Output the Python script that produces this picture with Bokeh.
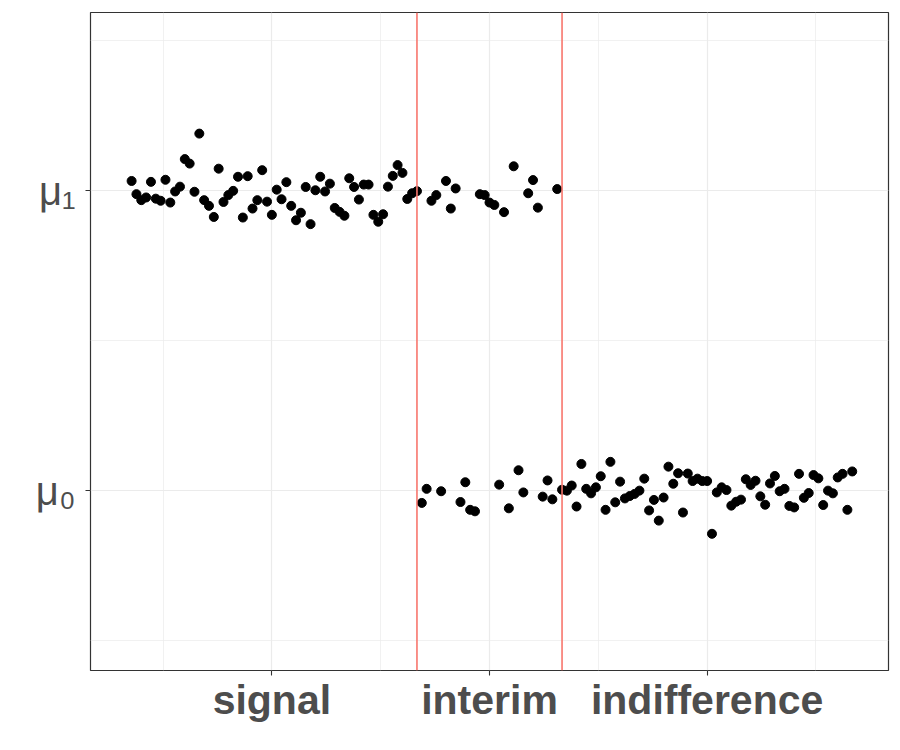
from bokeh.plotting import figure
from bokeh.models import FixedTicker, Range1d, Span, ColumnDataSource
from bokeh.embed import file_html
from bokeh.resources import INLINE

# ---- data ----
# time index of observations whose mean is mu1 (=1) and their values
idx_mu1 = list(range(1, 61)) + [63, 64, 66, 67, 68, 73, 74, 75, 76, 78, 80, 83, 84, 85, 89]
y_mu1 = [1.033, 0.989, 0.969, 0.978, 1.030, 0.974, 0.967, 1.037, 0.961, 0.998,
         1.014, 1.106, 1.091, 0.997, 1.191, 0.969, 0.950, 0.913, 1.074, 0.963,
         0.986, 1.000, 1.047, 0.911, 1.049, 0.941, 0.969, 1.069, 0.964, 0.920,
         1.004, 0.972, 1.029, 0.950, 0.902, 0.927, 1.013, 0.889, 1.002, 1.047,
         0.998, 1.024, 0.943, 0.930, 0.917, 1.042, 1.013, 0.971, 1.021, 1.021,
         0.920, 0.897, 0.922, 1.014, 1.050, 1.086, 1.060, 0.973, 0.992, 0.999,
         0.967, 0.986, 1.033, 0.941, 1.008, 0.989, 0.986, 0.961, 0.953, 0.929,
         1.082, 0.992, 1.036, 0.944, 1.006]

# time index of observations whose mean is mu0 (=0) and their values
idx_mu0 = [61, 62, 65, 69, 70, 71, 72, 77, 79, 81, 82, 86, 87, 88, 90] + list(range(91, 151))
y_mu0 = [-0.041, 0.006, -0.002, -0.038, 0.028, -0.064, -0.069, 0.020, -0.059, 0.068,
         -0.006, -0.020, 0.034, -0.029, 0.003,
         0.000, 0.017, -0.053, 0.089, 0.006, -0.009, 0.011, 0.048, -0.064, 0.096,
         -0.039, 0.030, -0.026, -0.018, -0.011, 0.000, 0.040, -0.066, -0.031, -0.100,
         -0.023, 0.080, 0.023, 0.058, -0.073, 0.057, 0.032, 0.040, 0.032, 0.032,
         -0.144, -0.006, 0.011, 0.002, -0.050, -0.037, -0.030, 0.038, 0.019, 0.033,
         -0.019, -0.047, 0.024, 0.049, -0.002, 0.006, -0.051, -0.056, 0.056, -0.024,
         -0.008, 0.052, 0.041, -0.048, 0.000, -0.009, 0.044, 0.056, -0.064, 0.064]

change_points = [60, 90]
x_tick_pos = [30, 75, 120]
x_tick_labels = ["signal", "interim", "indifference"]
x_minor_pos = [7.5, 52.5, 97.5, 142.5]
y_tick_pos = [0, 1]
y_tick_labels = ["μ₀", "μ₁"]
y_minor_pos = [-0.5, 0.5, 1.5]

# ---- figure ----
p = figure(width=900, height=750, output_backend="svg", toolbar_location=None,
           x_range=Range1d(-7.5, 157.5), y_range=Range1d(-0.6, 1.595),
           min_border_left=90, min_border_right=12, min_border_top=12, min_border_bottom=80)
p.background_fill_color = "white"
p.border_fill_color = "white"
p.outline_line_color = "#333333"
p.outline_line_width = 1.2

p.xaxis.ticker = FixedTicker(ticks=x_tick_pos, minor_ticks=x_minor_pos)
p.yaxis.ticker = FixedTicker(ticks=y_tick_pos, minor_ticks=y_minor_pos)
p.xaxis.major_label_overrides = {t: l for t, l in zip(x_tick_pos, x_tick_labels)}
p.yaxis.major_label_overrides = {t: l for t, l in zip(y_tick_pos, y_tick_labels)}

for ax in (p.xaxis, p.yaxis):
    ax.axis_line_color = None
    ax.major_tick_line_color = "#333333"
    ax.major_tick_line_width = 1.1
    ax.major_tick_out = 5
    ax.major_tick_in = 0
    ax.minor_tick_out = 0
    ax.minor_tick_in = 0
    ax.major_label_text_color = "#4D4D4D"
    ax.major_label_text_font = "Liberation Sans"

p.xaxis.major_label_text_font_size = "41px"
p.xaxis.major_label_text_font_style = "bold"
p.xaxis.major_label_standoff = 1
p.yaxis.major_label_text_font_size = "40px"
p.yaxis.major_label_standoff = 10

for g in (p.xgrid, p.ygrid):
    g.grid_line_color = "#EBEBEB"
    g.grid_line_width = 1.2
    g.minor_grid_line_color = "#EBEBEB"
    g.minor_grid_line_width = 0.7

for cp in change_points:
    p.add_layout(Span(location=cp, dimension="height", line_color="#F8766D", line_width=1.6))

src1 = ColumnDataSource(dict(x=idx_mu1, y=y_mu1))
src0 = ColumnDataSource(dict(x=idx_mu0, y=y_mu0))
p.scatter("x", "y", source=src1, size=9, color="black")
p.scatter("x", "y", source=src0, size=9, color="black")

open("out.html", "w").write(file_html(p, INLINE))
